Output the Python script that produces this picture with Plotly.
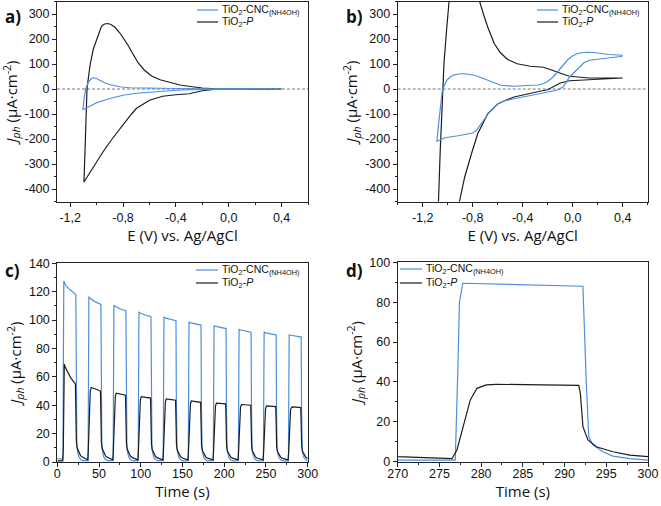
import plotly.graph_objects as go

# ---------------- data ----------------
# Panel a: cyclic voltammetry (E vs Ag/AgCl, J in uA/cm2)
a_P_E = [0.4, 0.2, 0.0, -0.1, -0.2, -0.28, -0.3, -0.4, -0.5, -0.6, -0.65, -0.7, -0.736, -0.8, -0.883, -0.95,
         -1.01, -1.06, -1.096, -1.085, -1.073, -1.06, -1.048, -1.025, -1.0, -0.98, -0.964, -0.945, -0.92,
         -0.895, -0.863, -0.825, -0.787, -0.76, -0.736, -0.71, -0.685, -0.64, -0.584, -0.52, -0.444, -0.37,
         -0.29, -0.2, -0.1, 0.0, 0.2, 0.4]
a_P_J = [0, 0, 0, -1, -7, -17, -19, -23, -29, -45, -60, -78, -100, -143, -200, -250,
         -300, -340, -372, -200, 0, 55, 100, 160, 200, 232, 250, 259, 262,
         259, 248, 225, 197, 173, 150, 126, 104, 76, 52, 37, 25, 16,
         10, 4, 1, 0, 0, 0]
a_C_E = [0.4, 0.2, 0.0, -0.2, -0.3, -0.4, -0.5, -0.6, -0.7, -0.8, -0.9, -1.0, -1.104, -1.095, -1.083,
         -1.06, -1.04, -1.022, -1.0, -0.977, -0.94, -0.9, -0.825, -0.75, -0.6, -0.4, -0.2, 0.0, 0.2, 0.4]
a_C_J = [0, 0, 0, -1, -3, -5, -8, -11, -17, -25, -38, -55, -83, -40, 0,
         30, 42, 45, 42, 35, 25, 18, 9, 5, 3, 2, 1, 0, 0, 0]

# Panel b: cyclic voltammetry
b_P_E = [0.4, 0.29, 0.15, 0.05, -0.025, -0.1, -0.15, -0.2, -0.27, -0.34, -0.47, -0.55, -0.6, -0.68, -0.76,
         -0.81, -0.864, -0.904, -0.95, -1.1, -1.074, -1.06, -1.045, -1.03, -1.01, -0.99, -0.96, -0.9,
         -0.82, -0.76, -0.745, -0.71, -0.68, -0.628, -0.58, -0.52, -0.445, -0.34, -0.28, -0.235, -0.18,
         -0.13, -0.07, -0.025, 0.05, 0.13, 0.4]
b_P_J = [44, 41, 39, 37, 33, 24, 10, -3, -10, -18, -32, -48, -60, -99, -179,
         -259, -352, -446, -560, -1500, -452, -250, -50, 100, 230, 355, 520, 650,
         560, 420, 350, 293, 248, 182, 146, 118, 101, 91, 89, 87, 78,
         68, 58, 51, 47, 44, 44]
b_C_E = [0.4, 0.237, 0.132, 0.09, 0.054, -0.025, -0.077, -0.13, -0.235, -0.34, -0.47, -0.55, -0.6, -0.654,
         -0.7, -0.733, -0.77, -0.8, -0.86, -0.917, -1.022, -1.087, -1.075, -1.061, -1.043, -1.008, -0.975,
         -0.943, -0.9, -0.864, -0.786, -0.73, -0.68, -0.62, -0.576, -0.47, -0.34, -0.28, -0.235, -0.195,
         -0.156, -0.115, -0.077, -0.04, 0.001, 0.04, 0.08, 0.13, 0.185, 0.29, 0.4]
b_C_J = [131, 121, 115, 105, 88, 48, 8, -5, -16, -25, -39, -48, -60, -85,
         -115, -139, -165, -176, -182, -187, -195, -210, -150, -85, -5, 35, 50,
         57, 61, 61, 55, 45, 35, 22, 15, 11, 13, 16, 21, 32,
         48, 72, 95, 117, 133, 142, 146, 147, 145, 138, 135]

# Panels c/d: chronoamperometry, light on/off
c_C_t = [0.0, 6.9, 7.2, 7.4, 7.8, 10, 15, 22.2, 22.6, 22.9, 23.4, 24.6, 25.8, 27.8, 30.0,
         36.9, 37.2, 37.4, 37.8, 40, 45, 52.2, 52.6, 52.9, 53.4, 54.6, 55.8, 57.8, 60.0,
         66.9, 67.2, 67.4, 67.8, 70, 75, 82.2, 82.6, 82.9, 83.4, 84.6, 85.8, 87.8, 90.0,
         96.9, 97.2, 97.4, 97.8, 100, 105, 112.2, 112.6, 112.9, 113.4, 114.6, 115.8, 117.8, 120.0,
         126.9, 127.2, 127.4, 127.8, 130, 135, 142.2, 142.6, 142.9, 143.4, 144.6, 145.8, 147.8, 150.0,
         156.9, 157.2, 157.4, 157.8, 160, 165, 172.2, 172.6, 172.9, 173.4, 174.6, 175.8, 177.8, 180.0,
         186.9, 187.2, 187.4, 187.8, 190, 195, 202.2, 202.6, 202.9, 203.4, 204.6, 205.8, 207.8, 210.0,
         216.9, 217.2, 217.4, 217.8, 220, 225, 232.2, 232.6, 232.9, 233.4, 234.6, 235.8, 237.8, 240.0,
         246.9, 247.2, 247.4, 247.8, 250, 255, 262.2, 262.6, 262.9, 263.4, 264.6, 265.8, 267.8, 270.0,
         276.9, 277.2, 277.4, 277.8, 280, 285, 292.2, 292.6, 292.9, 293.4, 294.6, 295.8, 297.8, 300.0]
c_C_J = [2.3, 2.0, 64, 113, 127.5, 124.5, 121.5, 118, 54, 17, 11, 6.5, 3.7, 2.0, 1.0,
         0.9, 58, 104, 116.5, 115, 113, 111, 50, 16, 10.5, 6, 3.4, 1.8, 0.9,
         0.9, 55, 98, 110.5, 109.5, 108, 106.5, 48, 15, 10, 5.8, 3.2, 1.7, 0.9,
         0.9, 53, 94, 105.5, 104.8, 103.6, 102.5, 46, 14.5, 9.7, 5.6, 3.1, 1.7, 0.9,
         0.9, 51, 91, 102, 101.4, 100.5, 99.5, 45, 14, 9.4, 5.5, 3.0, 1.6, 0.8,
         0.9, 49, 88, 98.5, 98, 97.3, 96.5, 44, 13.7, 9.2, 5.4, 3.0, 1.6, 0.8,
         0.9, 48, 85, 96, 95.5, 94.8, 94, 43, 13.4, 9.0, 5.3, 2.9, 1.6, 0.8,
         0.9, 47, 83, 93.5, 93, 92.3, 91.5, 42, 13, 8.8, 5.2, 2.9, 1.5, 0.8,
         0.9, 46, 82, 91.5, 91, 90.3, 89.5, 41, 12.8, 8.6, 5.1, 2.8, 1.5, 0.8,
         0.8, 45, 80, 89.5, 89.3, 88.8, 88.0, 40, 12.5, 8.4, 5.0, 2.8, 1.5, 0.8]

c_P_t = [0.0, 6.5, 7.2, 7.8, 8.4, 9.5, 11, 13, 15, 17, 19, 21.7, 21.9, 22.2, 22.8, 23.8, 25.8, 27.8, 30.0,
         36.5, 37.1, 37.9, 38.7, 39.5, 40.6, 41.8, 45.8, 51.7, 51.9, 52.2, 52.8, 53.8, 55.8, 57.8, 60.0,
         66.5, 67.1, 67.9, 68.7, 69.5, 70.6, 71.8, 75.8, 81.7, 81.9, 82.2, 82.8, 83.8, 85.8, 87.8, 90.0,
         96.5, 97.1, 97.9, 98.7, 99.5, 100.6, 101.8, 105.8, 111.7, 111.9, 112.2, 112.8, 113.8, 115.8, 117.8, 120.0,
         126.5, 127.1, 127.9, 128.7, 129.5, 130.6, 131.8, 135.8, 141.7, 141.9, 142.2, 142.8, 143.8, 145.8, 147.8, 150.0,
         156.5, 157.1, 157.9, 158.7, 159.5, 160.6, 161.8, 165.8, 171.7, 171.9, 172.2, 172.8, 173.8, 175.8, 177.8, 180.0,
         186.5, 187.1, 187.9, 188.7, 189.5, 190.6, 191.8, 195.8, 201.7, 201.9, 202.2, 202.8, 203.8, 205.8, 207.8, 210.0,
         216.5, 217.1, 217.9, 218.7, 219.5, 220.6, 221.8, 225.8, 231.7, 231.9, 232.2, 232.8, 233.8, 235.8, 237.8, 240.0,
         246.5, 247.1, 247.9, 248.7, 249.5, 250.6, 251.8, 255.8, 261.7, 261.9, 262.2, 262.8, 263.8, 265.8, 267.8, 270.0,
         276.5, 277.1, 277.9, 278.7, 279.5, 280.6, 281.8, 285.8, 291.7, 291.9, 292.2, 292.8, 293.8, 295.8, 297.8, 300.0]
c_P_J = [0.8, 0.8, 10, 45, 69, 67, 65, 62.5, 60.5, 58.5, 57, 55, 48, 25, 15, 10, 6.8, 4.5, 3.5,
         1.5, 7.9, 25.7, 42, 49.9, 52.5, 52.3, 51.4, 50, 44, 23, 14, 9.5, 6.5, 4.3, 3.3,
         1.5, 7.3, 23.8, 38.8, 46.1, 48.5, 48.4, 47.8, 47, 41.4, 21.6, 13.2, 8.9, 6.1, 4.0, 3.1,
         1.5, 6.9, 22.5, 36.8, 43.7, 46, 45.9, 45.5, 45, 39.6, 20.7, 12.6, 8.6, 5.9, 3.8, 2.9,
         1.5, 6.7, 21.8, 35.6, 42.3, 44.5, 44.4, 44, 43.5, 38.3, 20, 12.2, 8.3, 5.7, 3.7, 2.8,
         1.5, 6.5, 21.1, 34.4, 40.9, 43, 42.9, 42.5, 42, 37, 19.3, 11.8, 8.0, 5.5, 3.6, 2.7,
         1.5, 6.2, 20.3, 33.2, 39.4, 41.5, 41.4, 41.3, 41, 36.1, 18.9, 11.5, 7.8, 5.3, 3.5, 2.7,
         1.5, 6.1, 19.8, 32.4, 38.5, 40.5, 40.4, 40.3, 40, 35.2, 18.4, 11.2, 7.6, 5.2, 3.4, 2.6,
         1.5, 5.9, 19.4, 31.6, 37.5, 39.5, 39.4, 39.3, 39, 34.3, 17.9, 10.9, 7.4, 5.1, 3.3, 2.5,
         1.5, 5.9, 19, 31, 36.8, 38.5, 38.8, 38.6, 38.3, 34, 17.6, 10.9, 7.5, 5.0, 3.3, 2.5]

series_names = ["TiO<sub>2</sub>-CNC<sub>(NH4OH)</sub>", "TiO<sub>2</sub>-<i>P</i>"]

cv_x_ticks = [-1.2, -0.8, -0.4, 0.0, 0.4]
cv_x_text = ["-1,2", "-0,8", "-0,4", "0,0", "0,4"]
cv_y_ticks = [-400, -300, -200, -100, 0, 100, 200, 300]
cv_y_text = ["-400", "-300", "-200", "-100", "0", "100", "200", "300"]

# ---------------- style ----------------
BLUE = "#4a8fe0"
BLACK = "#1c1c1c"
W, H = 661, 506
TICKFONT = dict(family="Liberation Sans, Arial", size=12.5, color="#111")
TITLEFONT = dict(family="Open Sans, Liberation Sans", size=15, color="#111")

fig = go.Figure()

def add(x, y, color, xa, ya, width=1.2):
    fig.add_trace(go.Scatter(x=x, y=y, mode="lines", line=dict(color=color, width=width),
                             xaxis=xa, yaxis=ya, showlegend=False, hoverinfo="skip"))

add(a_P_E, a_P_J, BLACK, "x", "y")
add(a_C_E, a_C_J, BLUE, "x", "y")
add(b_P_E, b_P_J, BLACK, "x2", "y2")
add(b_C_E, b_C_J, BLUE, "x2", "y2")
add(c_C_t, c_C_J, BLUE, "x3", "y3")
add(c_P_t, c_P_J, BLACK, "x3", "y3")
add(c_C_t, c_C_J, BLUE, "x4", "y4")
add(c_P_t, c_P_J, BLACK, "x4", "y4")

def px(x):
    return x / W

def py(y):
    return 1 - y / H

dom = {
    "a": ([px(57), px(308)], [py(201.5), py(1.5)]),
    "b": ([px(397.7), px(647.7)], [py(201.5), py(1.5)]),
    "c": ([px(57.3), px(307.7)], [py(462), py(263.3)]),
    "d": ([px(397.7), px(648)], [py(461.7), py(262.3)]),
}

def axis(domain, anchor, rng, title, tickvals=None, ticktext=None, dtick=None, minor_dtick=None,
         tick0=None, standoff=3, labelshift=0):
    d = dict(domain=domain, anchor=anchor, range=rng, showgrid=False, zeroline=False,
             automargin=False,
             showline=True, linecolor="#222", linewidth=1, mirror=True,
             ticks="outside", ticklen=4, tickwidth=1, tickcolor="#222",
             ticklabelstandoff=labelshift,
             tickfont=TICKFONT, title=dict(text=title, font=TITLEFONT, standoff=standoff),
             minor=dict(ticks="outside", ticklen=2, tickwidth=1, tickcolor="#222", dtick=minor_dtick,
                        tick0=tick0, showgrid=False))
    if tickvals is not None:
        d.update(tickmode="array", tickvals=tickvals, ticktext=ticktext)
    else:
        d.update(tickmode="linear", dtick=dtick, tick0=tick0)
    return d

ytitle = "<i>J<sub>ph</sub></i> (µA·cm<sup>-2</sup>)"
etitle = "E (V) vs. Ag/AgCl"
ttitle = "Time (s)"

fig.update_layout(
    width=W, height=H, margin=dict(l=0, r=0, t=0, b=0),
    paper_bgcolor="white", plot_bgcolor="white",
    xaxis=axis(dom["a"][0], "y", [-1.3, 0.6], etitle, cv_x_ticks, cv_x_text, minor_dtick=0.2, tick0=-1.2),
    yaxis=axis(dom["a"][1], "x", [-450, 350], ytitle, cv_y_ticks, cv_y_text, minor_dtick=50, tick0=0),
    xaxis2=axis(dom["b"][0], "y2", [-1.4, 0.6], etitle, cv_x_ticks, cv_x_text, minor_dtick=0.2, tick0=-1.2),
    yaxis2=axis(dom["b"][1], "x2", [-450, 350], ytitle, cv_y_ticks, cv_y_text, minor_dtick=50, tick0=0),
    xaxis3=axis(dom["c"][0], "y3", [0, 300], ttitle, dtick=50, minor_dtick=25, tick0=0,
                standoff=0, labelshift=-4),
    yaxis3=axis(dom["c"][1], "x3", [0, 140], ytitle, dtick=20, minor_dtick=10, tick0=0),
    xaxis4=axis(dom["d"][0], "y4", [270, 300], ttitle, dtick=5, minor_dtick=2.5, tick0=270,
                standoff=0, labelshift=-4),
    yaxis4=axis(dom["d"][1], "x4", [0, 100], ytitle, dtick=20, minor_dtick=10, tick0=0),
)

shapes = []
# dashed zero lines in CV panels
for xr, yr in (("x domain", "y"), ("x2 domain", "y2")):
    shapes.append(dict(type="line", xref=xr, yref=yr, x0=0, x1=1, y0=0, y1=0,
                       line=dict(color="#555", width=0.8, dash="3px,2px"), layer="below"))

annotations = []
# panel labels
for lab, x, y in (("a)", 3, 16), ("b)", 344, 16), ("c)", 3, 270), ("d)", 344, 270)):
    annotations.append(dict(text=f"<b>{lab}</b>", x=px(x), y=py(y), xref="paper", yref="paper",
                            xanchor="left", yanchor="middle", showarrow=False,
                            font=dict(family="Open Sans, Liberation Sans", size=17, color="#111")))

# legends (line sample + label)
legend_pos = [(197, 218, 10, 22), (537, 558, 10, 22), (196, 218, 270, 283), (400, 422, 269, 283)]
for x0, x1, y1, y2 in legend_pos:
    for name, color, yy in ((series_names[0], BLUE, y1), (series_names[1], BLACK, y2)):
        shapes.append(dict(type="line", xref="paper", yref="paper", x0=px(x0), x1=px(x1),
                           y0=py(yy), y1=py(yy), line=dict(color=color, width=1.2)))
        annotations.append(dict(text=name, x=px(x1 + 2), y=py(yy), xref="paper", yref="paper",
                                xanchor="left", yanchor="middle", showarrow=False,
                                font=dict(family="Liberation Sans, Arial", size=10.5, color="#111")))

fig.update_layout(shapes=shapes, annotations=annotations)
fig.write_html("out.html", config={"displayModeBar": False, "staticPlot": True},
               post_script="document.body.style.margin='0';document.body.style.overflow='hidden';")
